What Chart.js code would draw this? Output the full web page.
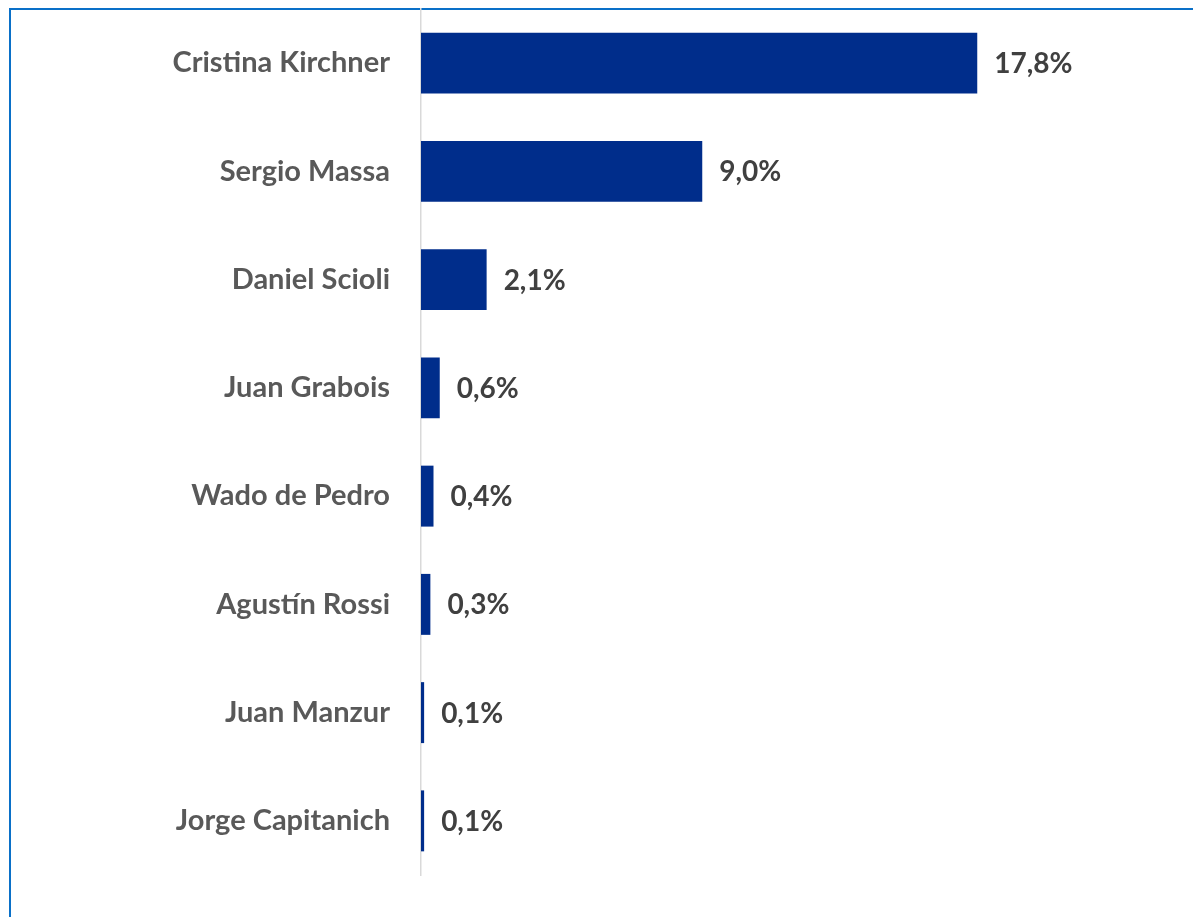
<!DOCTYPE html>
<html>
<head>
<meta charset="utf-8">
<script src="https://cdn.jsdelivr.net/npm/chart.js@4.4.1/dist/chart.umd.min.js"></script>
<style>
  html, body { margin: 0; padding: 0; background: #ffffff; }
  body { width: 1193px; height: 917px; position: relative; overflow: hidden; }
  #frame { position: absolute; left: 9px; top: 8px; width: 1300px; height: 1000px;
           border-left: 2px solid #0a70c8; border-top: 2px solid #0a70c8; box-sizing: border-box; }
  #wrap { position: absolute; left: 0; top: 0; width: 1193px; height: 917px; }
</style>
</head>
<body>
<div id="frame"></div>
<div id="wrap"><canvas id="c" width="1193" height="917"></canvas></div>
<script>
const categories = ["Cristina Kirchner", "Sergio Massa", "Daniel Scioli", "Juan Grabois",
                    "Wado de Pedro", "Agustín Rossi", "Juan Manzur", "Jorge Capitanich"];
const values = [17.8, 9.0, 2.1, 0.6, 0.4, 0.3, 0.1, 0.1];

const FONT = "Lato, 'Open Sans', sans-serif";

const valueLabels = {
  id: 'valueLabels',
  afterDatasetsDraw(chart) {
    const ctx = chart.ctx;
    const meta = chart.getDatasetMeta(0);
    ctx.save();
    ctx.font = "bold 28px " + FONT;
    ctx.fillStyle = '#404040';
    ctx.textAlign = 'left';
    ctx.textBaseline = 'middle';
    meta.data.forEach((bar, i) => {
      const v = chart.data.datasets[0].data[i];
      const txt = v.toFixed(1).replace('.', ',') + '%';
      ctx.fillText(txt, bar.x + 17, bar.y + 1);
    });
    ctx.restore();
  }
};

new Chart(document.getElementById('c'), {
  type: 'bar',
  data: {
    labels: categories,
    datasets: [{
      data: values,
      backgroundColor: '#002d8b',
      borderWidth: 0,
      barPercentage: 0.563,
      categoryPercentage: 1.0
    }]
  },
  options: {
    indexAxis: 'y',
    responsive: false,
    animation: false,
    devicePixelRatio: 1,
    layout: { padding: { left: 0, right: 147, top: 9, bottom: 42 } },
    plugins: { legend: { display: false }, tooltip: { enabled: false }, title: { display: false } },
    scales: {
      x: {
        display: false,
        min: 0,
        max: 20
      },
      y: {
        afterFit(scale) {
          scale.width = 421;
          scale.paddingTop = 0;
          scale.paddingBottom = 0;
        },
        grid: { display: false, drawTicks: false },
        border: { display: true, color: '#d9d9d9', width: 1.5 },
        ticks: {
          padding: 31,
          color: '#595959',
          font: { family: FONT, size: 29, weight: 'bold' }
        }
      }
    }
  },
  plugins: [valueLabels]
});
</script>
</body>
</html>
